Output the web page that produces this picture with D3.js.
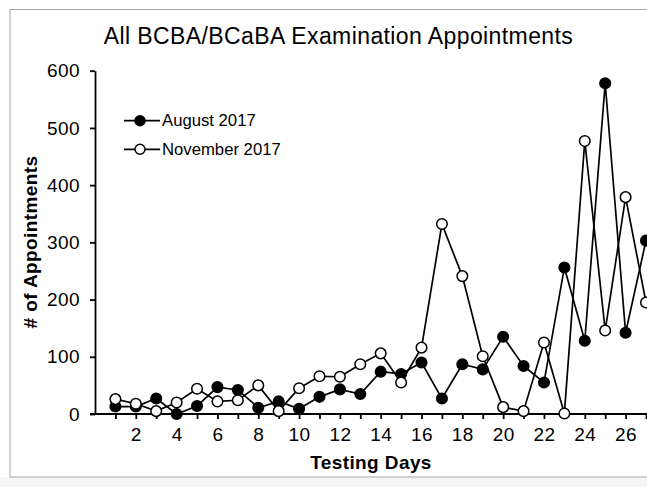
<!DOCTYPE html>
<html>
<head>
<meta charset="utf-8">
<script src="https://cdn.jsdelivr.net/npm/d3@7"></script>
<style>
  body { margin: 0; background: #fff; }
  text { font-family: "Liberation Sans", Arial, Helvetica, sans-serif; fill: #000; }
  .axis path, .axis line { stroke: #000; stroke-width: 1.8; }
  .axis text { font-size: 19px; letter-spacing: 0.4px; }
</style>
</head>
<body>
<div id="chart"></div>
<script>
var days = d3.range(1, 28)
var august = [13, 13, 27, 0, 14, 47, 42, 11, 22, 9, 30, 43, 35, 74, 70, 90, 27, 87, 78, 135, 84, 55, 256, 128, 578, 142, 303]
var november = [26, 18, 5, 20, 44, 22, 24, 50, 5, 45, 66, 65, 87, 106, 55, 116, 332, 241, 101, 12, 5, 125, 1, 477, 146, 379, 195]
var yTicks = [0, 100, 200, 300, 400, 500, 600]
var seriesNames = ["August 2017", "November 2017"]

var W = 647, H = 487
var margin = { top: 70.7, left: 95, right: 1, bottom: 73 }
var width = W - margin.left - margin.right,
    height = H - margin.top - margin.bottom

var root = d3.select("#chart").append("svg")
  .attr("width", W)
  .attr("height", H)

// page frame
root.append("rect")
  .attr("x", 0).attr("y", 477).attr("width", W).attr("height", 10)
  .attr("fill", "#f5f5f5")
root.append("rect")
  .attr("x", 10).attr("y", 9.5).attr("width", W + 20).attr("height", 467.5)
  .attr("fill", "#fff").attr("stroke", "#a8a8a8").attr("stroke-width", 1)

var svg = root.append("g")
  .attr("transform", "translate(" + margin.left + "," + margin.top + ")")

var x = d3.scaleLinear().domain([0, 27]).range([0, 551])
var y = d3.scaleLinear().domain([0, 600]).range([height, 0])

// axes
svg.append("g")
  .attr("class", "axis x-axis")
  .attr("transform", "translate(0," + height + ")")
  .call(d3.axisBottom(x)
    .tickValues(days)
    .tickSize(5)
    .tickSizeOuter(0)
    .tickPadding(8.5)
    .tickFormat(function(d) { return d % 2 === 0 ? d : "" }))
svg.select(".x-axis .domain").attr("d", "M-5,0H" + (width + 20))

svg.append("g")
  .attr("class", "axis y-axis")
  .call(d3.axisLeft(y)
    .tickValues(yTicks)
    .tickSize(5)
    .tickSizeOuter(0)
    .tickPadding(10))

// lines + markers
var line = d3.line()
  .x(function(d, i) { return x(days[i]) })
  .y(function(d) { return y(d) })

function drawSeries(values, fill) {
  svg.append("path")
    .datum(values)
    .attr("fill", "none")
    .attr("stroke", "#000")
    .attr("stroke-width", 1.7)
    .attr("d", line)
  svg.append("g").selectAll("circle")
    .data(values)
    .enter().append("circle")
    .attr("cx", function(d, i) { return x(days[i]) })
    .attr("cy", function(d) { return y(d) })
    .attr("r", 5.3)
    .attr("fill", fill)
    .attr("stroke", "#000")
    .attr("stroke-width", 1.5)
}
drawSeries(august, "#000")
drawSeries(november, "#fff")

// legend
var legend = root.append("g")
seriesNames.forEach(function(name, i) {
  var ly = 120.7 + i * 28.6
  legend.append("line")
    .attr("x1", 124).attr("x2", 160)
    .attr("y1", ly).attr("y2", ly)
    .attr("stroke", "#000").attr("stroke-width", 1.8)
  legend.append("circle")
    .attr("cx", 140).attr("cy", ly).attr("r", 5)
    .attr("fill", i === 0 ? "#000" : "#fff")
    .attr("stroke", "#000").attr("stroke-width", 1.5)
  legend.append("text")
    .attr("x", 162).attr("y", ly + 5.5)
    .style("font-size", "16.7px")
    .text(name)
})

// titles
root.append("text")
  .attr("x", 338.5).attr("y", 43.5)
  .attr("text-anchor", "middle")
  .style("font-size", "23px")
  .style("letter-spacing", "0.4px")
  .text("All BCBA/BCaBA Examination Appointments")

root.append("text")
  .attr("x", 371).attr("y", 469.3)
  .attr("text-anchor", "middle")
  .style("font-size", "19px")
  .style("font-weight", "bold")
  .style("letter-spacing", "0.4px")
  .text("Testing Days")

root.append("text")
  .attr("transform", "translate(37,242) rotate(-90)")
  .attr("text-anchor", "middle")
  .style("font-size", "19px")
  .style("font-weight", "bold")
  .style("letter-spacing", "0.4px")
  .text("# of Appointments")
</script>
</body>
</html>
